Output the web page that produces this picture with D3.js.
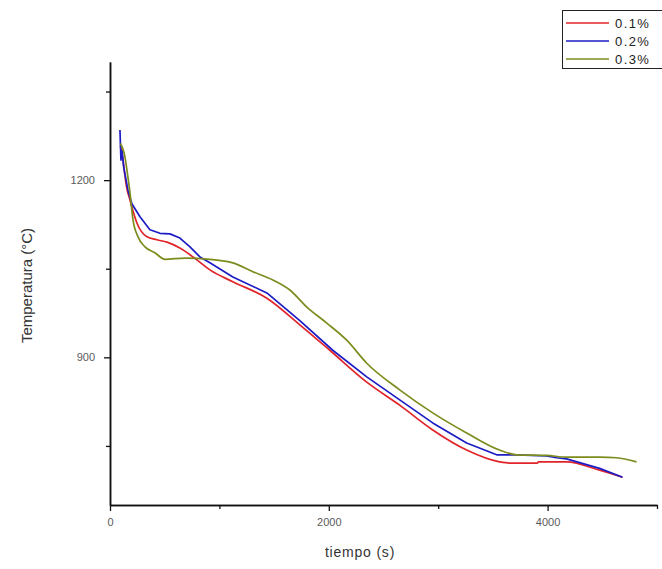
<!DOCTYPE html>
<html>
<head>
<meta charset="utf-8">
<script src="https://cdn.jsdelivr.net/npm/d3@7"></script>
<style>
body { margin: 0; background: #fff; }
svg { display: block; }
.tick text { font-family: "Liberation Sans", Arial, sans-serif; font-size: 11px; fill: #5a5a5a; }
</style>
</head>
<body>
<div id="chart"></div>
<script>
// series: time (s) and temperature (°C)
var names = ["0.1%", "0.2%", "0.3%"];
var colors = ["#e0242a", "#1c1cc4", "#7e8c1e"];

var t1 = [95, 115, 135, 150, 183, 247, 338, 429, 521, 639, 794, 913, 1123, 1434, 1735, 2009, 2347, 2648, 2950, 3260, 3561, 3653, 3908, 3915, 4173, 4475, 4685];
var v1 = [1258, 1240, 1210, 1190, 1166, 1127, 1104, 1099, 1095, 1085, 1065, 1048, 1028, 1000, 955, 912, 858, 819, 777, 743, 723, 721, 721, 723, 723, 709, 697];

var t2 = [91, 100, 110, 125, 164, 200, 274, 365, 457, 548, 639, 731, 822, 913, 1123, 1434, 1735, 2036, 2347, 2648, 2950, 3260, 3534, 3717, 3990, 4082, 4173, 4475, 4685];
var v2 = [1285, 1234, 1250, 1222, 1183, 1160, 1138, 1116, 1110, 1109, 1102, 1087, 1070, 1060, 1036, 1009, 962, 912, 867, 828, 789, 755, 735, 735, 733, 730, 728, 712, 697];

var t3 = [95, 137, 155, 183, 210, 256, 320, 410, 502, 685, 913, 1123, 1306, 1489, 1644, 1799, 1982, 2164, 2347, 2648, 2950, 3260, 3561, 3717, 3990, 4173, 4475, 4630, 4813];
var v3 = [1262, 1239, 1217, 1178, 1133, 1104, 1087, 1077, 1066, 1068, 1066, 1060, 1045, 1031, 1014, 985, 958, 929, 890, 845, 806, 772, 743, 735, 734, 731, 731, 730, 723];

var xMajor = [0, 2000, 4000];
var xMinor = [1000, 3000, 5000];
var yMajor = [900, 1200];
var yMinor = [750, 1050, 1350];

var times = [t1, t2, t3];
var vals = [v1, v2, v3];

var W = 662, H = 569;
var mLeft = 110, mRight = 657, mTop = 62, mBottom = 505;

var svg = d3.select("#chart").append("svg")
  .attr("width", W)
  .attr("height", H);

var x = d3.scaleLinear().domain([0, 5000]).range([mLeft, mRight]);
var y = d3.scaleLinear().domain([650, 1400]).range([mBottom, mTop]);

// axes
svg.append("g").attr("transform", "translate(0," + mBottom + ")")
  .call(d3.axisBottom(x).tickValues(xMajor).tickFormat(d3.format("d")).tickSize(6).tickPadding(7).tickSizeOuter(0));
svg.append("g").attr("transform", "translate(0," + mBottom + ")")
  .call(d3.axisBottom(x).tickValues(xMinor).tickSize(4).tickFormat("").tickSizeOuter(0));
svg.append("g").attr("transform", "translate(" + mLeft + ",0)")
  .call(d3.axisLeft(y).tickValues(yMajor).tickFormat(d3.format("d")).tickSize(6).tickPadding(9).tickSizeOuter(0));
svg.append("g").attr("transform", "translate(" + mLeft + ",0)")
  .call(d3.axisLeft(y).tickValues(yMinor).tickSize(4).tickFormat("").tickSizeOuter(0));

svg.selectAll(".domain").attr("stroke", "#111").attr("stroke-width", 1.5);
svg.selectAll(".tick line").attr("stroke", "#111").attr("stroke-width", 1.3);

// axis titles
svg.append("text")
  .attr("x", 360)
  .attr("y", 557)
  .attr("text-anchor", "middle")
  .style("font-family", "Liberation Sans, Arial, sans-serif")
  .style("font-size", "14px")
  .style("letter-spacing", "0.8px")
  .attr("fill", "#333")
  .text("tiempo (s)");

svg.append("text")
  .attr("transform", "translate(32," + ((mTop + mBottom) / 2 + 2) + ") rotate(-90)")
  .attr("text-anchor", "middle")
  .style("font-family", "Liberation Sans, Arial, sans-serif")
  .style("font-size", "15px")
  .attr("fill", "#333")
  .text("Temperatura (°C)");

// curves
var line = d3.line()
  .x(function(d) { return x(d[0]); })
  .y(function(d) { return y(d[1]); });

for (var s = 0; s < 3; s++) {
  var pts = d3.zip(times[s], vals[s]);
  svg.append("path")
    .datum(pts)
    .attr("fill", "none")
    .attr("stroke", colors[s])
    .attr("stroke-width", 1.7)
    .attr("stroke-linejoin", "round")
    .attr("d", line.curve(s === 1 ? d3.curveLinear : d3.curveMonotoneX));
}

// legend
var lg = svg.append("g");
lg.append("rect")
  .attr("x", 562.5).attr("y", 10.5)
  .attr("width", 110).attr("height", 58)
  .attr("fill", "#fff")
  .attr("stroke", "#222")
  .attr("stroke-width", 1);
names.forEach(function(n, i) {
  var yy = 23 + i * 18;
  lg.append("line")
    .attr("x1", 566).attr("x2", 609)
    .attr("y1", yy).attr("y2", yy)
    .attr("stroke", colors[i])
    .attr("stroke-width", 1.5);
  lg.append("text")
    .attr("x", 615).attr("y", yy + 4.5)
    .style("font-family", "Liberation Sans, Arial, sans-serif")
    .style("font-size", "13px")
    .style("letter-spacing", "1.4px")
    .attr("fill", "#222")
    .text(n);
});
</script>
</body>
</html>
